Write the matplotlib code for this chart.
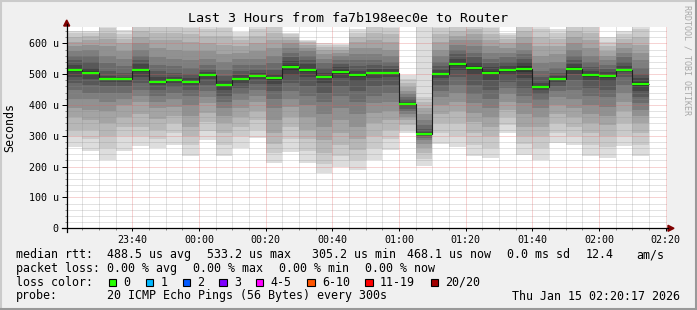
import numpy as np
import matplotlib.pyplot as plt
from matplotlib.lines import Line2D
from matplotlib.patches import Polygon, Rectangle

W, H = 697, 310

# minutes after 00:00; one smoke column per 5 minute step
bin_start = np.arange(-40, 135, 5)
t_left, t_right = -39.717, 140.283

medians = [514, 504, 483, 483, 514, 474, 480, 475, 496.5, 464, 483, 493, 487, 522,
           514, 490, 507, 496, 504, 504, 402, 305.2, 501, 533.2, 520, 504, 514, 517,
           458, 483, 517, 496, 493, 514, 468.1]

# 20 sorted pings per column (us)
pings = [
    [265, 300, 320, 360, 390, 420, 450, 470, 490, 508, 520, 530, 545, 560, 575, 590, 605, 620, 632, 640],
    [252, 290, 320, 350, 385, 420, 440, 465, 485, 499, 509, 520, 540, 560, 580, 595, 610, 625, 635, 640],
    [220, 260, 300, 340, 380, 410, 440, 460, 474, 480, 486, 494, 510, 535, 560, 590, 615, 635, 650, 660],
    [250, 300, 330, 360, 400, 420, 440, 460, 474, 480, 486, 492, 505, 525, 550, 575, 600, 615, 630, 642],
    [267, 300, 330, 370, 410, 430, 450, 470, 490, 507, 520, 532, 545, 560, 580, 600, 620, 640, 655, 660],
    [260, 290, 320, 355, 390, 410, 430, 450, 464, 470, 478, 490, 510, 530, 555, 585, 610, 635, 655, 660],
    [270, 310, 340, 365, 395, 420, 440, 458, 472, 477, 483, 492, 505, 525, 550, 580, 610, 635, 655, 660],
    [233, 270, 300, 330, 365, 400, 430, 450, 465, 472, 478, 487, 500, 520, 545, 575, 605, 630, 650, 660],
    [287, 315, 345, 375, 405, 425, 445, 465, 484, 494, 499, 506, 515, 530, 550, 575, 600, 625, 645, 660],
    [233, 270, 310, 340, 365, 390, 410, 430, 450, 460, 468, 480, 495, 515, 540, 565, 595, 625, 650, 660],
    [260, 300, 330, 360, 390, 415, 435, 455, 472, 479, 487, 497, 510, 530, 550, 570, 590, 610, 625, 638],
    [292, 320, 350, 380, 410, 430, 450, 468, 484, 490, 496, 504, 515, 530, 550, 575, 600, 625, 645, 660],
    [213, 245, 275, 310, 350, 390, 420, 445, 467, 482, 492, 502, 515, 535, 560, 585, 610, 635, 655, 660],
    [249, 290, 330, 360, 395, 420, 445, 470, 497, 514, 530, 542, 555, 570, 585, 600, 612, 622, 630, 635],
    [213, 250, 290, 320, 360, 400, 430, 460, 492, 507, 520, 532, 545, 560, 575, 585, 595, 603, 608, 611],
    [178, 210, 245, 285, 330, 370, 410, 440, 472, 486, 494, 505, 520, 535, 550, 565, 578, 588, 595, 602],
    [200, 235, 270, 310, 350, 390, 430, 460, 487, 502, 512, 522, 532, 545, 558, 570, 580, 588, 594, 598],
    [189, 220, 255, 290, 330, 370, 410, 445, 477, 492, 500, 510, 525, 545, 565, 585, 605, 620, 635, 645],
    [222, 260, 300, 340, 375, 405, 430, 460, 487, 500, 508, 516, 530, 545, 565, 585, 610, 635, 655, 660],
    [254, 290, 320, 350, 380, 410, 440, 465, 492, 500, 508, 516, 525, 540, 560, 580, 605, 630, 650, 660],
    [308, 320, 335, 350, 360, 370, 380, 388, 396, 400, 404, 410, 418, 426, 436, 446, 458, 470, 485, 497],
    [203, 225, 245, 262, 275, 285, 292, 298, 302, 304, 306, 312, 322, 335, 350, 370, 390, 410, 425, 660],
    [274, 310, 340, 370, 400, 425, 445, 465, 487, 497, 505, 514, 525, 540, 560, 580, 605, 630, 650, 660],
    [265, 300, 340, 380, 410, 440, 465, 490, 512, 527, 539, 550, 565, 580, 595, 610, 625, 640, 655, 660],
    [235, 270, 310, 345, 375, 405, 435, 465, 497, 512, 528, 540, 555, 570, 590, 610, 630, 645, 655, 660],
    [227, 260, 300, 330, 360, 390, 420, 450, 482, 497, 511, 522, 535, 550, 570, 590, 610, 630, 650, 660],
    [308, 335, 360, 385, 410, 435, 455, 475, 497, 508, 520, 528, 540, 555, 570, 585, 600, 615, 628, 635],
    [238, 275, 300, 330, 370, 405, 430, 455, 487, 507, 527, 538, 550, 565, 580, 600, 620, 640, 655, 660],
    [222, 260, 300, 330, 360, 390, 415, 435, 450, 455, 461, 472, 490, 510, 535, 560, 590, 620, 645, 660],
    [278, 310, 340, 370, 400, 425, 445, 460, 474, 480, 486, 494, 505, 520, 540, 565, 590, 615, 635, 645],
    [270, 300, 330, 360, 390, 420, 450, 480, 502, 512, 522, 532, 545, 560, 580, 600, 620, 640, 655, 660],
    [233, 270, 310, 340, 370, 400, 430, 455, 482, 492, 500, 510, 522, 540, 560, 585, 610, 635, 655, 660],
    [227, 265, 300, 335, 365, 395, 425, 450, 477, 488, 498, 507, 517, 530, 545, 560, 575, 590, 605, 620],
    [267, 300, 340, 380, 410, 440, 465, 490, 507, 512, 517, 527, 540, 555, 570, 585, 600, 615, 630, 641],
    [233, 270, 310, 340, 365, 385, 405, 425, 447, 462, 474, 487, 502, 520, 545, 570, 595, 620, 645, 660],
]

x_ticks = [-20, 0, 20, 40, 60, 80, 100, 120, 140]
x_labels = ['23:40', '00:00', '00:20', '00:40', '01:00', '01:20', '01:40', '02:00', '02:20']
y_ticks = [0, 100, 200, 300, 400, 500, 600]
y_labels = ['0', '100 u', '200 u', '300 u', '400 u', '500 u', '600 u']

loss_labels = ['0', '1', '2', '3', '4-5', '6-10', '11-19', '20/20']
loss_colors = ['#26ff00', '#00b8ff', '#0059ff', '#7e00ff', '#ff00ff', '#ff5500', '#ff0000', '#a10000']

rtt_stats = ['488.5 us avg', '533.2 us max', '305.2 us min', '468.1 us now', '0.0 ms sd', '12.4', 'am/s']
loss_stats = ['0.00 % avg', '0.00 % max', '0.00 % min', '0.00 % now']

MONO = 'DejaVu Sans Mono'


def fx(x):
    return x / W


def fy(y):
    return 1 - y / H


fig = plt.figure(figsize=(W / 100, H / 100), dpi=100, facecolor='#f0f0f0')
ax = fig.add_axes([fx(66.7), fy(228.3), 600 / W, 201.3 / H])
ax.set_facecolor('white')
ax.set_xlim(t_left, t_right)
ax.set_ylim(0, 653)

# smoke: band i spans ping i .. ping 21-i, darker towards the middle
pk = np.array(pings)
for i in range(10):
    g = int(190 / 10 * (10 - (i + 1))) + 50
    lo = pk[:, i]
    hi = pk[:, 19 - i]
    ax.bar(bin_start, hi - lo, bottom=lo, width=5, align='edge',
           color='#%02x%02x%02x' % (g, g, g), linewidth=0, antialiased=False, zorder=1)

# grid, drawn over the smoke
for v in range(20, 653, 20):
    if v % 100:
        ax.axhline(v, color='#8c8c8c', alpha=0.5, lw=0.72, ls=(0, (1, 1)), zorder=3)
for t in range(-35, 141, 5):
    if t % 20:
        ax.axvline(t, color='#8c8c8c', alpha=0.5, lw=0.72, ls=(0, (1, 1)), zorder=3)
for v in y_ticks[1:]:
    ax.axhline(v, color='#e06060', alpha=0.55, lw=0.72, ls=(0, (1, 1)), zorder=3)
for t in x_ticks:
    ax.axvline(t, color='#e06060', alpha=0.55, lw=0.72, ls=(0, (1, 1)), zorder=3)

# median
edges = np.append(bin_start, bin_start[-1] + 5)
ax.stairs(medians, edges, baseline=None, color='#202020', lw=0.8, zorder=4)
ax.hlines(medians, bin_start, bin_start + 5, color=loss_colors[0], lw=1.6, zorder=5)

for s in ax.spines.values():
    s.set_visible(False)
ax.set_xticks(x_ticks)
ax.set_xticklabels(x_labels)
ax.set_xticks(np.arange(-35, 141, 5), minor=True)
ax.set_yticks(y_ticks)
ax.set_yticklabels(y_labels)
ax.set_yticks(np.arange(20, 653, 20), minor=True)
ax.tick_params(axis='both', which='major', labelsize=7.2, colors='black', width=0.72)
ax.tick_params(axis='y', which='major', length=3.6, pad=2.2)
ax.tick_params(axis='x', which='major', length=2.2, pad=2.6)
ax.tick_params(axis='both', which='minor', length=1.4, width=0.72, colors='#8c8c8c')
for lab in ax.get_xticklabels() + ax.get_yticklabels():
    lab.set_family(MONO)

# axis lines and arrows
fig.add_artist(Line2D([fx(62), fx(668)], [fy(228.3), fy(228.3)], color='black', lw=0.9))
fig.add_artist(Line2D([fx(66.7), fx(66.7)], [fy(232), fy(24)], color='black', lw=0.9))
fig.add_artist(Polygon([[fx(668), fy(225.3)], [fx(674), fy(228.3)], [fx(668), fy(231.3)]],
                       closed=True, color='#7f0000', transform=fig.transFigure))
fig.add_artist(Polygon([[fx(63.7), fy(26)], [fx(66.7), fy(20)], [fx(69.7), fy(26)]],
                       closed=True, color='#7f0000', transform=fig.transFigure))

# frame shading
fig.add_artist(Line2D([0, 1], [fy(0.5), fy(0.5)], color='#cbcbcb', lw=1.5))
fig.add_artist(Line2D([fx(0.5), fx(0.5)], [0, 1], color='#cbcbcb', lw=1.5))
fig.add_artist(Line2D([0, 1], [fy(309.2), fy(309.2)], color='#999999', lw=1.5))
fig.add_artist(Line2D([fx(696.2), fx(696.2)], [0, 1], color='#999999', lw=1.5))

fig.text(fx(348), fy(19), 'Last 3 Hours from fa7b198eec0e to Router', family=MONO,
         fontsize=9.6, ha='center', va='center')
fig.text(fx(10), fy(127), 'Seconds', family=MONO, fontsize=8.4, rotation=90,
         ha='center', va='center')
fig.text(fx(687.5), fy(5), 'RRDTOOL / TOBI OETIKER', family=MONO, fontsize=6.0,
         rotation=270, ha='center', va='top', color='#a8a8a8')

LEG = 8.4
row_y = [254.7, 268.2, 282.3, 296]
fig.text(fx(16), fy(row_y[0]), 'median rtt:', family=MONO, fontsize=LEG, va='center')
for x, s in zip([107, 207, 312, 407, 507, 586, 636], rtt_stats):
    fig.text(fx(x), fy(row_y[0]), s, family=MONO, fontsize=LEG, va='center')

fig.text(fx(16), fy(row_y[1]), 'packet loss:', family=MONO, fontsize=LEG, va='center')
for x, s in zip([107, 193, 279, 365], loss_stats):
    fig.text(fx(x), fy(row_y[1]), s, family=MONO, fontsize=LEG, va='center')

fig.text(fx(16), fy(row_y[2]), 'loss color:', family=MONO, fontsize=LEG, va='center')
box_x = [108.7, 145.7, 182.7, 219.3, 256, 307.3, 365.3, 430.7]
for x, c, s in zip(box_x, loss_colors, loss_labels):
    fig.add_artist(Rectangle((fx(x), fy(row_y[2] + 3.8)), 7.3 / W, 7.3 / H, facecolor=c,
                             edgecolor='black', lw=0.8, transform=fig.transFigure))
    fig.text(fx(x + 14.8), fy(row_y[2]), s, family=MONO, fontsize=LEG, va='center')

fig.text(fx(16), fy(row_y[3]), 'probe:', family=MONO, fontsize=LEG, va='center')
fig.text(fx(107), fy(row_y[3]), '20 ICMP Echo Pings (56 Bytes) every 300s', family=MONO,
         fontsize=LEG, va='center')
fig.text(fx(680), fy(row_y[3]), 'Thu Jan 15 02:20:17 2026', family=MONO, fontsize=LEG,
         va='center', ha='right')

fig.savefig('out.png', dpi=100, facecolor=fig.get_facecolor())
